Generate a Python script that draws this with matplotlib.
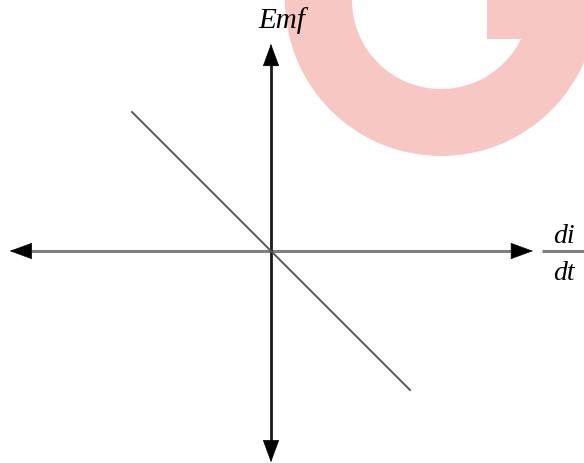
import matplotlib
matplotlib.use("Agg")
from matplotlib import pyplot as plt
from matplotlib.patches import Wedge, Circle, Rectangle

# line Emf vs di/dt (slope -1 through origin)
line_x = [-1.0, 1.0]
line_y = [1.0, -1.0]

# axis extents (arrow tips)
x_left, x_right = -1.88, 1.885
y_bottom, y_top = -1.52, 1.49

emf_label = "Emf"
num_label = "di"
den_label = "dt"

fig = plt.figure(figsize=(5.84, 4.64), dpi=100)

# background watermark in pixel coords
bg = fig.add_axes([0, 0, 1, 1])
bg.set_xlim(0, 584)
bg.set_ylim(464, 0)
bg.axis("off")
pink = "#f7c7c3"
bg.add_patch(Wedge((441, 1), 156, 0, 360, width=67, color=pink, lw=0))
outer = Circle((441, 1), 156, transform=bg.transData, visible=False)
bg.add_patch(outer)
bar = Rectangle((487, -20), 120, 60, color=pink, lw=0)
bg.add_patch(bar)
bar.set_clip_path(outer)

# main chart
ax = fig.add_axes([0, 0, 1, 1])
ax.set_xlim(-271 / 139, 313 / 139)
ax.set_ylim((252 - 464) / 139, 252 / 139)
ax.axis("off")
ax.patch.set_alpha(0)

hl = 21 / 139  # arrow head length in data units
# horizontal axis (grey shaft, black heads)
ax.plot([x_left + hl, x_right - hl], [0, 0], color="#7f7f7f", lw=2.2, solid_capstyle="butt")
# vertical axis (black)
ax.plot([0, 0], [y_bottom + hl, y_top - hl], color="#1a1a1a", lw=2.0, solid_capstyle="butt")

head = dict(arrowstyle="-|>,head_length=15,head_width=5.5", color="black",
            lw=0.5, shrinkA=0, shrinkB=0, mutation_scale=1)
ax.annotate("", xy=(x_right, 0), xytext=(x_right - hl, 0), arrowprops=head)
ax.annotate("", xy=(x_left, 0), xytext=(x_left + hl, 0), arrowprops=head)
ax.annotate("", xy=(0, y_top), xytext=(0, y_top - hl), arrowprops=head)
ax.annotate("", xy=(0, y_bottom), xytext=(0, y_bottom + hl), arrowprops=head)

ax.plot(line_x, line_y, color="#555555", lw=1.4)

font = dict(family="Liberation Serif", style="italic")
ax.text(0.08, 1.612, emf_label, ha="center", va="baseline", fontsize=21, **font)
ax.text(2.11, 0.065, num_label, ha="center", va="baseline", fontsize=20, **font)
ax.text(2.11, -0.20, den_label, ha="center", va="baseline", fontsize=20, **font)
ax.plot([1.95, 2.30], [0, 0], color="#7f7f7f", lw=2.2, solid_capstyle="butt")

fig.savefig("out.png", dpi=100)
